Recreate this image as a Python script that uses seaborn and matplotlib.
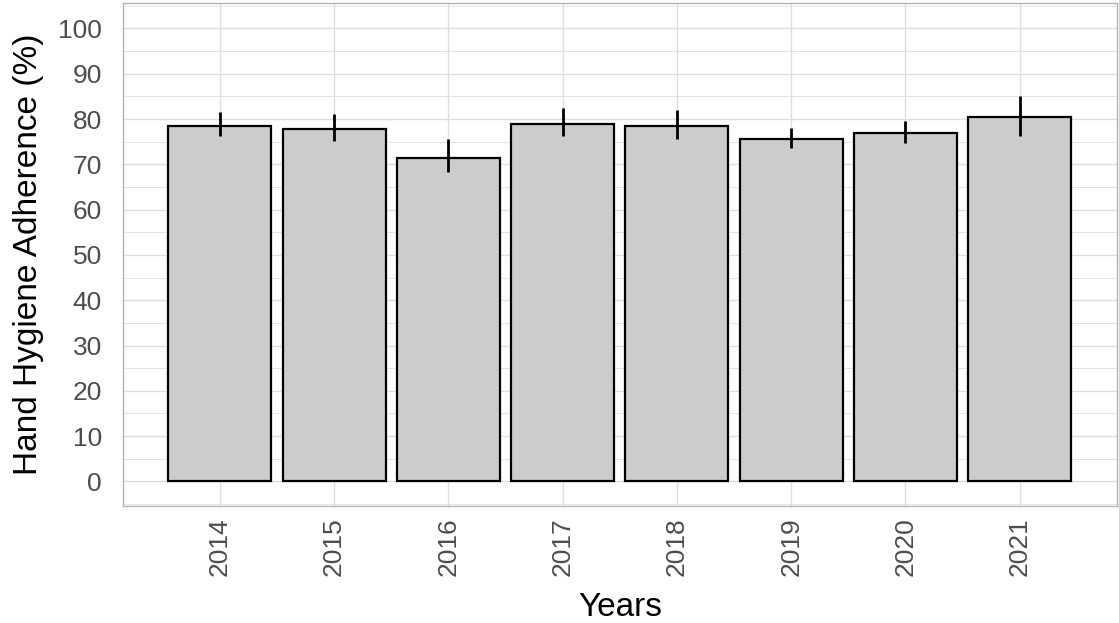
import matplotlib
matplotlib.use("Agg")
import matplotlib.pyplot as plt
from matplotlib.ticker import MultipleLocator
import numpy as np
import pandas as pd
import seaborn as sns

# Yearly hand hygiene adherence (%) with interval bounds
years = ["2014", "2015", "2016", "2017", "2018", "2019", "2020", "2021"]
adherence = [78.4, 77.9, 71.5, 78.9, 78.4, 75.5, 76.9, 80.4]
lower = [76.2, 75.2, 68.3, 76.2, 75.7, 73.7, 74.7, 76.2]
upper = [81.5, 81.1, 75.6, 82.5, 82.1, 78.1, 79.6, 85.0]
y_ticks = list(range(0, 101, 10))

df = pd.DataFrame({"Years": years, "Adherence": adherence,
                   "lo": lower, "hi": upper})

sns.set_style("white")
plt.rcParams["font.family"] = ["Liberation Sans", "DejaVu Sans"]

fig, ax = plt.subplots(figsize=(11.19, 6.23), dpi=100)
fig.subplots_adjust(left=0.1097, right=0.998, top=0.995, bottom=0.188)

sns.barplot(data=df, x="Years", y="Adherence", order=years,
            color="#CCCCCC", edgecolor="black", linewidth=1.6,
            width=0.9, errorbar=None, saturation=1, ax=ax, zorder=3)

# Interval lines, no caps
pos = np.arange(len(years))
ax.vlines(pos, df["lo"], df["hi"], color="black", linewidth=2.0, zorder=4)

ax.set_xlim(-0.85, len(years) - 1 + 0.85)
ax.set_ylim(-5.4, 105.6)
ax.set_yticks(y_ticks)
ax.yaxis.set_minor_locator(MultipleLocator(5))

grid_c = "#DEDEDE"
ax.grid(True, which="major", axis="both", color=grid_c, linewidth=1.0, zorder=0)
ax.grid(True, which="minor", axis="y", color=grid_c, linewidth=0.6, zorder=0)
ax.set_axisbelow(True)

for s in ax.spines.values():
    s.set_visible(True)
    s.set_color("#B3B3B3")
    s.set_linewidth(1.0)

ax.tick_params(axis="both", which="major", color="#B3B3B3", width=0.8,
               labelcolor="#4D4D4D", labelsize=19)
ax.tick_params(axis="y", which="major", length=7, pad=8)
ax.tick_params(axis="x", which="major", length=4, pad=4, labelrotation=90)
ax.tick_params(axis="both", which="minor", length=0)

ax.set_xlabel("Years", fontsize=24, color="black", labelpad=12)
ax.set_ylabel("Hand Hygiene Adherence (%)", fontsize=24, color="black",
              labelpad=10)

fig.savefig("out.png", dpi=100)
